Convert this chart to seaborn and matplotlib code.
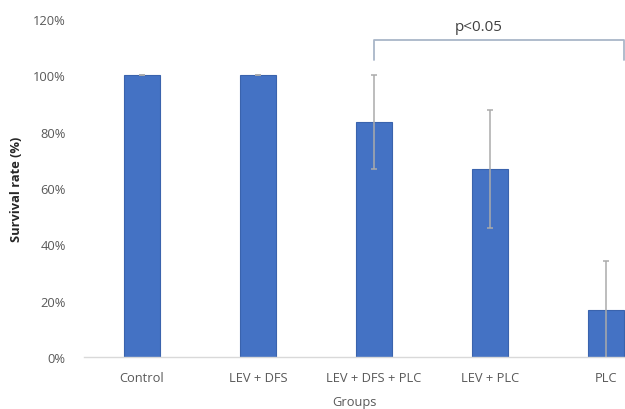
import numpy as np
import pandas as pd
import matplotlib
matplotlib.use('Agg')
import matplotlib.pyplot as plt
import seaborn as sns

# values
groups = ['Control', 'LEV + DFS', 'LEV + DFS + PLC', 'LEV + PLC', 'PLC']
survival = [100, 100, 83.3, 66.7, 16.7]
errors = [0, 0, 16.7, 21.0, 17.3]
yticks = [0, 20, 40, 60, 80, 100, 120]

sns.set_style('white')
plt.rcParams['font.family'] = ['Open Sans', 'DejaVu Sans']

df = pd.DataFrame({'Groups': groups, 'Survival': survival, 'err': errors})

fig = plt.figure(figsize=(6.25, 4.1), dpi=100)
ax = fig.add_axes([0.134, 0.127, 0.866, 0.824])

sns.barplot(data=df, x='Groups', y='Survival', color='#4472C4',
            width=0.31, edgecolor='#3A63AD', linewidth=0.8, ax=ax,
            saturation=1)
ax.errorbar(np.arange(len(groups)), df['Survival'], yerr=df['err'],
            fmt='none', ecolor='#ABABAB', elinewidth=1.1, capsize=2.5,
            capthick=1.1)

# significance bracket between LEV + DFS + PLC and PLC
br_y, br_low = 112.5, 105.5
ax.plot([2, 2, 4.15, 4.15], [br_low, br_y, br_y, br_low],
        color='#A9B6C8', lw=1.3, clip_on=False)
ax.text(2.9, 117.5, 'p<0.05', ha='center', va='center', fontsize=11,
        color='#404040')

ax.set_xlim(-0.5, 4.16)
ax.set_ylim(0, 120)
ax.set_yticks(yticks)
ax.set_yticklabels([f'{t}%' for t in yticks])
ax.tick_params(axis='both', length=0, labelsize=9.3, colors='#595959')
ax.tick_params(axis='y', pad=13)
ax.tick_params(axis='x', pad=10)

for s in ['top', 'right', 'left']:
    ax.spines[s].set_visible(False)
ax.spines['bottom'].set_color('#D9D9D9')
ax.spines['bottom'].set_linewidth(1)

ax.set_ylabel('Survival rate (%)', fontsize=9.3, fontweight='bold',
              color='#262626', labelpad=7)
ax.set_xlabel('Groups', fontsize=9.3, color='#595959', labelpad=8)

fig.savefig('out.png', dpi=100)
